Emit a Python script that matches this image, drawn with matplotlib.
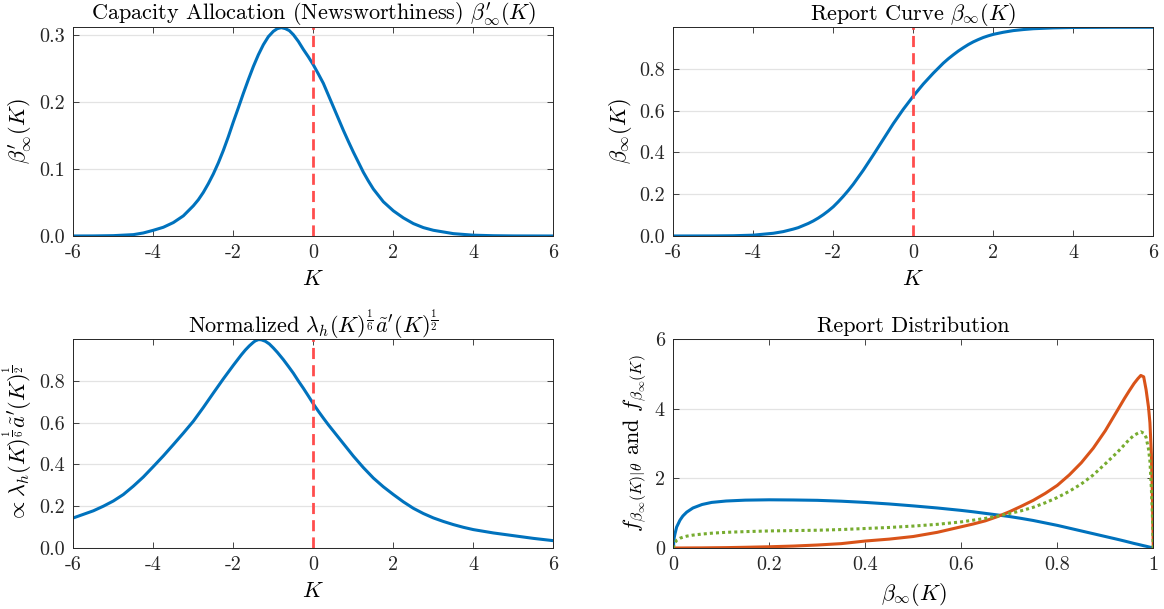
import matplotlib
matplotlib.use("Agg")
import matplotlib.pyplot as plt

plt.rcParams['font.family'] = 'serif'
plt.rcParams['font.serif'] = ['cmr10']
plt.rcParams['mathtext.fontset'] = 'cm'
plt.rcParams['axes.unicode_minus'] = False

# Capacity allocation beta'_inf(K)
k_alloc = [-6, -5.5, -5, -4.5, -4.25, -4, -3.75, -3.5, -3.25, -3, -2.875, -2.75, -2.625,
           -2.5, -2.375, -2.25, -2.125, -2, -1.875, -1.75, -1.625, -1.5, -1.375, -1.25,
           -1.125, -1, -0.9, -0.8, -0.7, -0.6, -0.5, -0.375, -0.25, -0.125, 0, 0.125,
           0.25, 0.375, 0.5, 0.625, 0.75, 0.875, 1, 1.125, 1.25, 1.375, 1.5, 1.75, 2,
           2.25, 2.5, 2.75, 3, 3.5, 4, 4.5, 5, 6]
alloc = [0, 0.0001, 0.0005, 0.002, 0.0045, 0.0085, 0.013, 0.02, 0.03, 0.045, 0.054, 0.065,
         0.078, 0.0925, 0.109, 0.1275, 0.148, 0.17, 0.191, 0.2125, 0.233, 0.2525, 0.27,
         0.285, 0.297, 0.305, 0.309, 0.3105, 0.309, 0.306, 0.3, 0.29, 0.278, 0.267, 0.255,
         0.2415, 0.2275, 0.21, 0.1925, 0.175, 0.1575, 0.141, 0.125, 0.11, 0.095, 0.082,
         0.07, 0.051, 0.0375, 0.027, 0.0185, 0.0125, 0.0085, 0.0035, 0.0012, 0.0004,
         0.0001, 0]

# Report curve beta_inf(K)
k_report = [-6, -5, -4.5, -4, -3.5, -3.25, -3, -2.875, -2.75, -2.625, -2.5, -2.375, -2.25,
            -2.125, -2, -1.875, -1.75, -1.625, -1.5, -1.25, -1, -0.75, -0.5, -0.25, 0,
            0.25, 0.5, 0.75, 0.875, 1, 1.125, 1.25, 1.375, 1.5, 1.625, 1.75, 1.875, 2,
            2.25, 2.5, 2.75, 3, 3.5, 4, 5, 6]
report = [0, 0.0004, 0.0012, 0.004, 0.013, 0.021, 0.033, 0.04, 0.05, 0.06, 0.072, 0.086,
          0.102, 0.12, 0.14, 0.164, 0.19, 0.218, 0.248, 0.315, 0.388, 0.463, 0.538, 0.607,
          0.67, 0.728, 0.78, 0.828, 0.849, 0.868, 0.886, 0.902, 0.917, 0.93, 0.941, 0.951,
          0.959, 0.966, 0.976, 0.984, 0.989, 0.993, 0.997, 0.999, 0.9999, 0.99995]

# Normalized lambda_h^(1/6) a'^(1/2)
k_norm = [-6, -5.5, -5.25, -5, -4.75, -4.5, -4.25, -4, -3.75, -3.5, -3.25, -3, -2.75,
          -2.5, -2.25, -2, -1.9, -1.8, -1.7, -1.6, -1.5, -1.45, -1.37, -1.3, -1.2, -1.1,
          -1, -0.9, -0.75, -0.625, -0.5, -0.375, -0.25, -0.125, 0, 0.125, 0.25, 0.375,
          0.5, 0.75, 1, 1.25, 1.5, 1.75, 2, 2.25, 2.5, 2.75, 3, 3.25, 3.5, 3.75, 4, 4.5,
          5, 5.5, 6]
norm = [0.144, 0.178, 0.2, 0.225, 0.256, 0.296, 0.34, 0.39, 0.441, 0.495, 0.55, 0.607,
        0.673, 0.742, 0.81, 0.875, 0.9, 0.925, 0.948, 0.968, 0.985, 0.992, 0.998, 0.997,
        0.99, 0.977, 0.958, 0.937, 0.902, 0.87, 0.837, 0.8, 0.765, 0.728, 0.69, 0.655,
        0.622, 0.59, 0.56, 0.5, 0.44, 0.385, 0.335, 0.293, 0.256, 0.221, 0.19, 0.165,
        0.144, 0.127, 0.112, 0.099, 0.088, 0.072, 0.059, 0.046, 0.035]

# Report distribution
b_grid = [0, 0.002, 0.0035, 0.007, 0.014, 0.02, 0.028, 0.041, 0.06, 0.08, 0.11, 0.15, 0.2,
          0.25, 0.3, 0.35, 0.4, 0.45, 0.5, 0.55, 0.6, 0.625, 0.65, 0.675, 0.7, 0.725, 0.75,
          0.775, 0.8, 0.825, 0.85, 0.875, 0.9, 0.925, 0.94, 0.95, 0.96, 0.968, 0.974, 0.98,
          0.985, 0.99, 0.993, 0.996, 0.998, 1.0]
f_low = [0, 0.3, 0.4, 0.6, 0.8, 0.92, 1.03, 1.15, 1.25, 1.31, 1.35, 1.375, 1.385, 1.38,
         1.37, 1.345, 1.31, 1.265, 1.21, 1.15, 1.08, 1.04, 0.995, 0.95, 0.905, 0.85, 0.79,
         0.72, 0.65, 0.57, 0.49, 0.41, 0.33, 0.25, 0.2, 0.165, 0.13, 0.105, 0.085, 0.065,
         0.05, 0.033, 0.023, 0.013, 0.006, 0]
f_high = [0, 0, 0, 0, 0, 0, 0.001, 0.002, 0.003, 0.006, 0.01, 0.02, 0.035, 0.055, 0.085,
          0.125, 0.2, 0.255, 0.33, 0.45, 0.61, 0.69, 0.78, 0.9, 1.04, 1.2, 1.37, 1.57,
          1.8, 2.1, 2.45, 2.87, 3.37, 3.95, 4.3, 4.52, 4.73, 4.87, 4.96, 4.92, 4.55, 4.05,
          3.6, 2.7, 1.6, 0]
f_all = [0, 0.1, 0.15, 0.22, 0.28, 0.31, 0.34, 0.37, 0.4, 0.425, 0.45, 0.47, 0.49, 0.5,
         0.51, 0.53, 0.56, 0.59, 0.63, 0.68, 0.75, 0.8, 0.85, 0.915, 0.99, 1.07, 1.17, 1.3,
         1.45, 1.63, 1.84, 2.1, 2.42, 2.75, 2.97, 3.12, 3.24, 3.3, 3.34, 3.3, 3.18, 2.85,
         2.5, 1.7, 1.0, 0]

blue = '#0072BD'
orange = '#D95319'
green = '#77AC30'
red = '#FF4D4D'
dark = '#262626'

fig = plt.figure(figsize=(11.64, 6.09), dpi=100)
w, h = 0.4124, 0.3427
ax1 = fig.add_axes([0.063, 0.6125, w, h])
ax2 = fig.add_axes([0.5784, 0.6125, w, h])
ax3 = fig.add_axes([0.063, 0.1002, w, h])
ax4 = fig.add_axes([0.5784, 0.1002, w, h])

k_ticks = [-6, -4, -2, 0, 2, 4, 6]
k_labels = ['-6', '-4', '-2', '0', '2', '4', '6']
dash = (0, (4, 2.2))


def style(ax):
    ax.yaxis.grid(True, color='#E3E3E3', lw=0.9)
    ax.set_axisbelow(True)
    ax.tick_params(direction='in', top=True, right=True, length=4, width=0.6,
                   colors=dark, labelsize=14.5, pad=6)
    for s in ax.spines.values():
        s.set_linewidth(0.7)
        s.set_color(dark)


ax1.plot(k_alloc, alloc, color=blue, lw=2.2)
ax1.axvline(0, color=red, lw=2, ls=dash)
ax1.set_xlim(-6, 6)
ax1.set_ylim(0, 0.311)
ax1.set_xticks(k_ticks, k_labels)
ax1.set_yticks([0, 0.1, 0.2, 0.3], ['0.0', '0.1', '0.2', '0.3'])
ax1.set_title(r"Capacity Allocation (Newsworthiness) $\beta_\infty^{\prime}(K)$", fontsize=16, pad=5)
ax1.set_xlabel(r'$K$', fontsize=16, labelpad=5)
ax1.set_ylabel(r"$\beta_\infty^{\prime}(K)$", fontsize=16)

ax2.plot(k_report, report, color=blue, lw=2.2)
ax2.axvline(0, color=red, lw=2, ls=dash)
ax2.set_xlim(-6, 6)
ax2.set_ylim(0, 0.9999)
ax2.set_xticks(k_ticks, k_labels)
ax2.set_yticks([0, 0.2, 0.4, 0.6, 0.8], ['0.0', '0.2', '0.4', '0.6', '0.8'])
ax2.set_title(r'Report Curve $\beta_\infty(K)$', fontsize=16, pad=5)
ax2.set_xlabel(r'$K$', fontsize=16, labelpad=5)
ax2.set_ylabel(r'$\beta_\infty(K)$', fontsize=16)

ax3.plot(k_norm, norm, color=blue, lw=2.2)
ax3.axvline(0, color=red, lw=2, ls=dash)
ax3.set_xlim(-6, 6)
ax3.set_ylim(0, 0.9995)
ax3.set_xticks(k_ticks, k_labels)
ax3.set_yticks([0, 0.2, 0.4, 0.6, 0.8], ['0.0', '0.2', '0.4', '0.6', '0.8'])
ax3.set_title(r"Normalized $\lambda_h(K)^{\frac{1}{6}}\tilde{a}'(K)^{\frac{1}{2}}$", fontsize=16, pad=5)
ax3.set_xlabel(r'$K$', fontsize=16, labelpad=5)
ax3.set_ylabel(r"$\propto\lambda_h(K)^{\frac{1}{6}}\tilde{a}'(K)^{\frac{1}{2}}$", fontsize=16)

ax4.plot(b_grid, f_low, color=blue, lw=2.2)
ax4.plot(b_grid, f_high, color=orange, lw=2.2)
ax4.plot(b_grid, f_all, color=green, lw=2.2, ls=(0, (1, 1)))
ax4.set_xlim(0, 1)
ax4.set_ylim(0, 6)
ax4.set_xticks([0, 0.2, 0.4, 0.6, 0.8, 1], ['0', '0.2', '0.4', '0.6', '0.8', '1'])
ax4.set_yticks([0, 2, 4, 6], ['0', '2', '4', '6'])
ax4.set_title('Report Distribution', fontsize=16, pad=5)
ax4.set_xlabel(r'$\beta_\infty(K)$', fontsize=16, labelpad=5)
ax4.set_ylabel(r'$f_{\beta_\infty(K)|\theta}$ and $f_{\beta_\infty(K)}$', fontsize=16)

for ax in (ax1, ax2, ax3, ax4):
    style(ax)

fig.savefig('out.png', dpi=100)
